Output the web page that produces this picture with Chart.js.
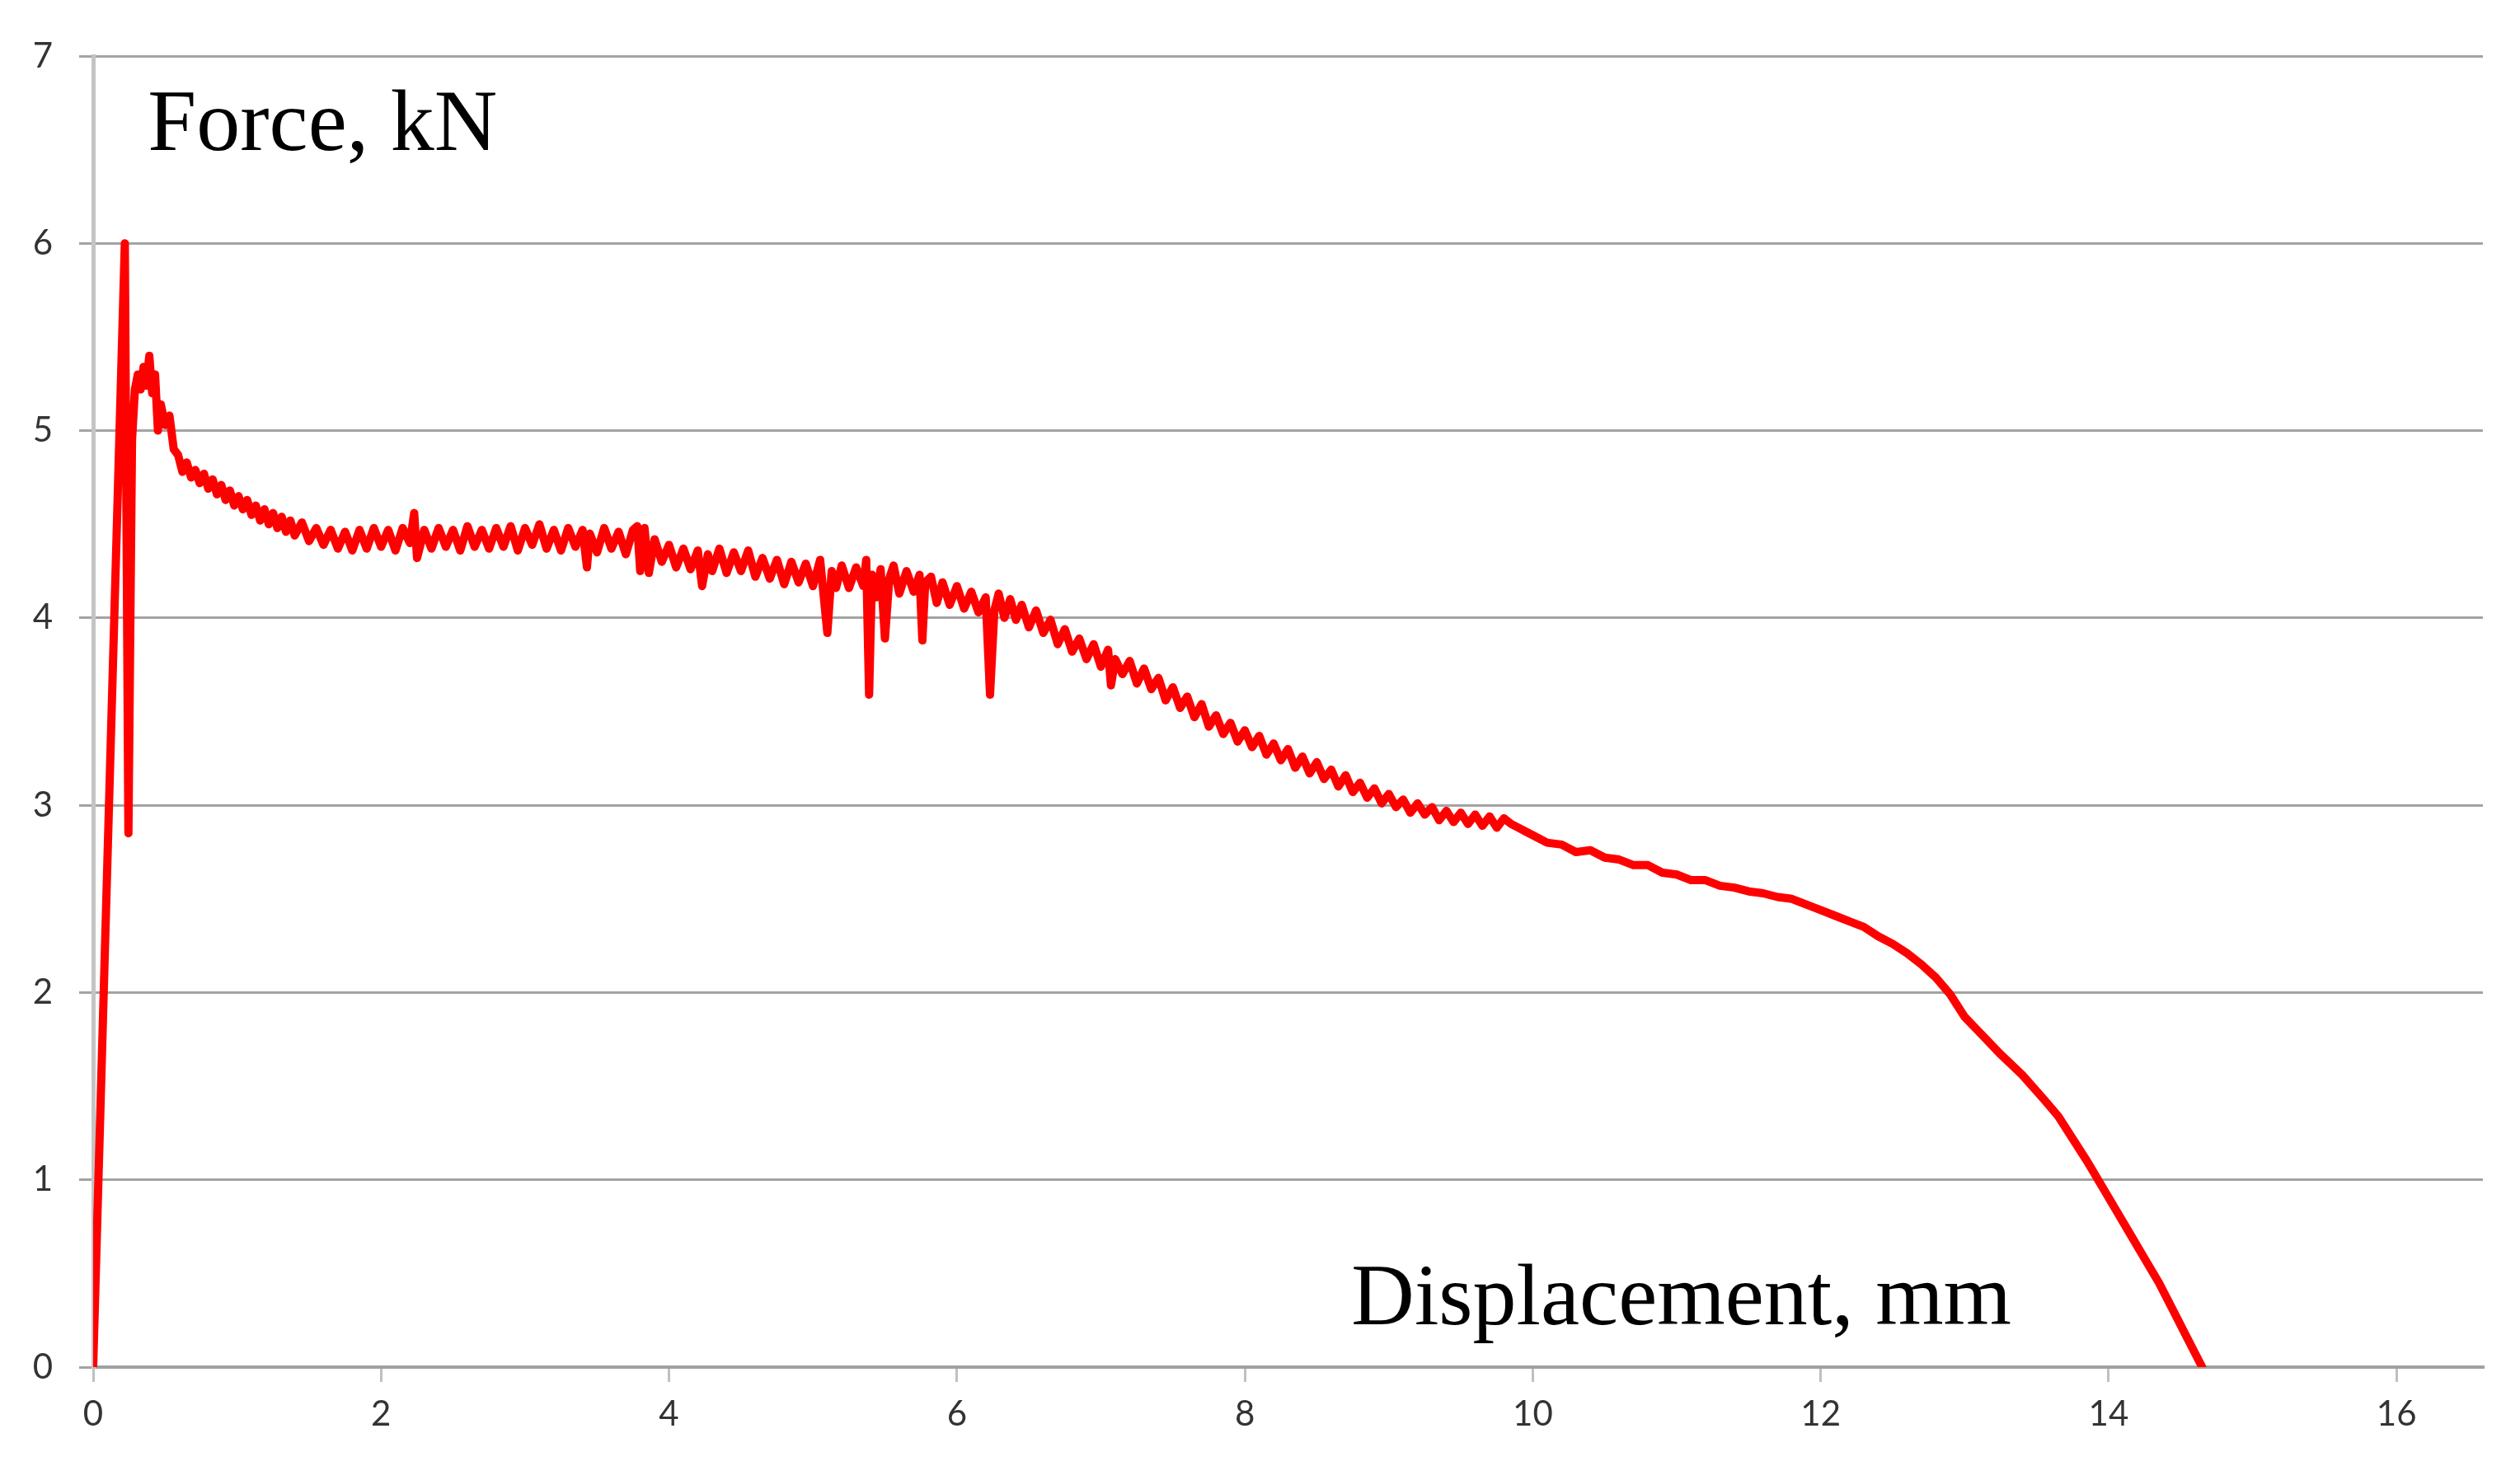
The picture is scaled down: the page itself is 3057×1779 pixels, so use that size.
<!DOCTYPE html>
<html lang="en">
<head>
    <meta charset="UTF-8">
    <title>Force vs Displacement</title>
    <script src="https://cdn.jsdelivr.net/npm/chart.js"></script>
    <style>
        html, body { margin: 0; padding: 0; background: #ffffff; }
        #wrap { width: 3057px; height: 1779px; }
    </style>
</head>
<body>
    <div id="wrap"><canvas id="forceChart" width="3057" height="1779"></canvas></div>

    <script>
        // texts
        const forceTitle = 'Force, kN';
        const dispTitle = 'Displacement, mm';

        // axis ticks
        const xTicks = [0, 2, 4, 6, 8, 10, 12, 14, 16];
        const yTicks = [0, 1, 2, 3, 4, 5, 6, 7];

        // displacement, mm
        const dispMm = [
            0.00, 0.22, 0.245, 0.27, 0.29, 0.31, 0.33, 0.35, 0.37, 0.39, 0.41, 0.43, 0.45, 0.47,
            0.50, 0.53, 0.56, 0.59, 0.62, 0.65, 0.68, 0.71, 0.74, 0.77, 0.80, 0.83, 0.86, 0.89,
            0.92, 0.95, 0.98, 1.01, 1.04, 1.07, 1.10, 1.13, 1.16, 1.19, 1.22, 1.25, 1.28, 1.31,
            1.34, 1.37, 1.40, 1.45, 1.50, 1.55, 1.60, 1.65, 1.70, 1.75, 1.80, 1.85, 1.90, 1.95,
            2.00, 2.05, 2.10, 2.15, 2.20, 2.23, 2.25, 2.30, 2.35, 2.40, 2.45, 2.50, 2.55, 2.60,
            2.65, 2.70, 2.75, 2.80, 2.85, 2.90, 2.95, 3.00, 3.05, 3.10, 3.15, 3.20, 3.25, 3.30,
            3.35, 3.40, 3.43, 3.45, 3.50, 3.55, 3.60, 3.65, 3.70, 3.75, 3.78, 3.80, 3.83, 3.86,
            3.90, 3.95, 4.00, 4.05, 4.10, 4.15, 4.20, 4.23, 4.27, 4.30, 4.35, 4.40, 4.45, 4.50,
            4.55, 4.60, 4.65, 4.70, 4.75, 4.80, 4.85, 4.90, 4.95, 5.00, 5.05, 5.10, 5.13, 5.16,
            5.20, 5.25, 5.30, 5.35, 5.37, 5.39, 5.41, 5.44, 5.47, 5.50, 5.53, 5.56, 5.60, 5.65,
            5.70, 5.74, 5.76, 5.78, 5.82, 5.86, 5.90, 5.95, 6.00, 6.05, 6.10, 6.15, 6.20, 6.23,
            6.26, 6.29, 6.33, 6.37, 6.41, 6.45, 6.50, 6.55, 6.60, 6.65, 6.70, 6.75, 6.80, 6.85,
            6.90, 6.95, 7.00, 7.05, 7.07, 7.10, 7.15, 7.20, 7.25, 7.30, 7.35, 7.40, 7.45, 7.50,
            7.55, 7.60, 7.65, 7.70, 7.75, 7.80, 7.85, 7.90, 7.95, 8.00, 8.05, 8.10, 8.15, 8.20,
            8.25, 8.30, 8.35, 8.40, 8.45, 8.50, 8.55, 8.60, 8.65, 8.70, 8.75, 8.80, 8.85, 8.90,
            8.95, 9.00, 9.05, 9.10, 9.15, 9.20, 9.25, 9.30, 9.35, 9.40, 9.45, 9.50, 9.55, 9.60,
            9.65, 9.70, 9.75, 9.80, 9.85, 9.90, 9.95, 10.00, 10.10, 10.20, 10.30, 10.40, 10.50,
            10.60, 10.70, 10.80, 10.90, 11.00, 11.10, 11.20, 11.30, 11.40, 11.50, 11.60, 11.70,
            11.80, 11.90, 12.00, 12.10, 12.20, 12.30, 12.40, 12.50, 12.60, 12.70, 12.80, 12.90,
            13.00, 13.10, 13.25, 13.40, 13.55, 13.65, 13.75, 13.85, 13.95, 14.05, 14.15, 14.25,
            14.35, 14.45, 14.55, 14.65
        ];

        // force, kN
        const forceKn = [
            0.00, 6.00, 2.85, 4.95, 5.22, 5.30, 5.22, 5.34, 5.24, 5.40, 5.20, 5.30, 5.00, 5.14,
            5.03, 5.08, 4.90, 4.87, 4.78, 4.83, 4.75, 4.79, 4.72, 4.77, 4.69, 4.74, 4.66, 4.71,
            4.63, 4.68, 4.60, 4.65, 4.58, 4.63, 4.55, 4.60, 4.52, 4.58, 4.50, 4.56, 4.48, 4.54,
            4.46, 4.52, 4.44, 4.51, 4.41, 4.48, 4.39, 4.47, 4.37, 4.46, 4.36, 4.47, 4.37, 4.48,
            4.38, 4.47, 4.36, 4.48, 4.40, 4.56, 4.32, 4.47, 4.37, 4.48, 4.38, 4.47, 4.36, 4.49,
            4.38, 4.47, 4.37, 4.48, 4.38, 4.49, 4.36, 4.48, 4.39, 4.50, 4.37, 4.47, 4.36, 4.48,
            4.38, 4.47, 4.27, 4.45, 4.35, 4.48, 4.37, 4.46, 4.34, 4.47, 4.49, 4.25, 4.48, 4.24,
            4.42, 4.30, 4.39, 4.27, 4.37, 4.26, 4.36, 4.17, 4.34, 4.25, 4.37, 4.24, 4.35, 4.25,
            4.36, 4.22, 4.32, 4.21, 4.31, 4.18, 4.30, 4.19, 4.29, 4.17, 4.31, 3.92, 4.25, 4.16,
            4.28, 4.16, 4.27, 4.17, 4.31, 3.59, 4.23, 4.11, 4.26, 3.89, 4.21, 4.28, 4.13, 4.25,
            4.14, 4.23, 3.88, 4.19, 4.22, 4.08, 4.19, 4.07, 4.17, 4.05, 4.14, 4.03, 4.11, 3.59,
            4.04, 4.13, 4.00, 4.10, 3.99, 4.07, 3.95, 4.04, 3.92, 3.99, 3.86, 3.94, 3.82, 3.89,
            3.78, 3.86, 3.74, 3.83, 3.64, 3.78, 3.70, 3.77, 3.65, 3.73, 3.62, 3.68, 3.56, 3.63,
            3.52, 3.58, 3.47, 3.54, 3.42, 3.48, 3.38, 3.44, 3.34, 3.40, 3.31, 3.37, 3.27, 3.33,
            3.24, 3.30, 3.20, 3.26, 3.17, 3.23, 3.14, 3.19, 3.10, 3.16, 3.07, 3.12, 3.04, 3.09,
            3.01, 3.06, 2.99, 3.03, 2.96, 3.01, 2.95, 2.99, 2.92, 2.97, 2.91, 2.96, 2.90, 2.95,
            2.89, 2.94, 2.88, 2.93, 2.90, 2.88, 2.86, 2.84, 2.80, 2.79, 2.75, 2.76, 2.72,
            2.71, 2.68, 2.68, 2.64, 2.63, 2.60, 2.60, 2.57, 2.56, 2.54, 2.53, 2.51,
            2.50, 2.47, 2.44, 2.41, 2.38, 2.35, 2.30, 2.26, 2.21, 2.15, 2.08, 1.99,
            1.87, 1.79, 1.67, 1.56, 1.43, 1.34, 1.22, 1.10, 0.97, 0.84, 0.71, 0.58,
            0.45, 0.30, 0.15, 0.00
        ];

        const points = dispMm.map((x, i) => ({ x: x, y: forceKn[i] }));

        // big serif captions inside the plot
        const captions = {
            id: 'captions',
            afterDatasetsDraw(chart) {
                const ctx = chart.ctx;
                const xs = chart.scales.x, ys = chart.scales.y;
                ctx.save();
                ctx.fillStyle = '#000';
                ctx.font = '106px "Liberation Serif"';
                ctx.textBaseline = 'alphabetic';
                ctx.textAlign = 'left';
                ctx.fillText(forceTitle, xs.getPixelForValue(0.38), ys.getPixelForValue(6.5));
                ctx.fillText(dispTitle, xs.getPixelForValue(8.74), ys.getPixelForValue(0.23));
                ctx.restore();
            }
        };

        const bg = {
            id: 'bg',
            beforeDraw(chart) {
                const ctx = chart.ctx;
                ctx.save();
                ctx.fillStyle = '#fff';
                ctx.fillRect(0, 0, chart.width, chart.height);
                ctx.restore();
            }
        };

        const ctx = document.getElementById('forceChart').getContext('2d');
        new Chart(ctx, {
            type: 'line',
            data: {
                datasets: [{
                    label: 'Force',
                    data: points,
                    borderColor: '#ff0000',
                    borderWidth: 10,
                    borderJoinStyle: 'round',
                    borderCapStyle: 'round',
                    pointRadius: 0,
                    tension: 0,
                    fill: false
                }]
            },
            options: {
                responsive: false,
                animation: false,
                devicePixelRatio: 1,
                layout: { padding: { top: 68, right: 45, left: 0, bottom: 0 } },
                plugins: { legend: { display: false }, tooltip: { enabled: false } },
                scales: {
                    x: {
                        type: 'linear',
                        min: 0,
                        max: 16.6,
                        afterBuildTicks: s => { s.ticks = xTicks.map(v => ({ value: v })); },
                        afterFit: s => { s.height = 120; },
                        ticks: {
                            font: { family: 'Lato', size: 42 },
                            color: '#333',
                            padding: 14,
                            maxRotation: 0,
                            autoSkip: false
                        },
                        grid: { drawOnChartArea: false, color: '#c0c0c0', lineWidth: 3, tickLength: 18 },
                        border: { color: '#a0a0a0', width: 4 }
                    },
                    y: {
                        min: 0,
                        max: 7,
                        afterBuildTicks: s => { s.ticks = yTicks.map(v => ({ value: v })); },
                        afterFit: s => { s.width = 113; },
                        ticks: {
                            font: { family: 'Lato', size: 42 },
                            color: '#333',
                            padding: 32
                        },
                        grid: { color: '#a3a3a3', lineWidth: 3, tickLength: 17 },
                        border: { color: '#c4c4c4', width: 5 }
                    }
                }
            },
            plugins: [bg, captions]
        });
    </script>
</body>
</html>
